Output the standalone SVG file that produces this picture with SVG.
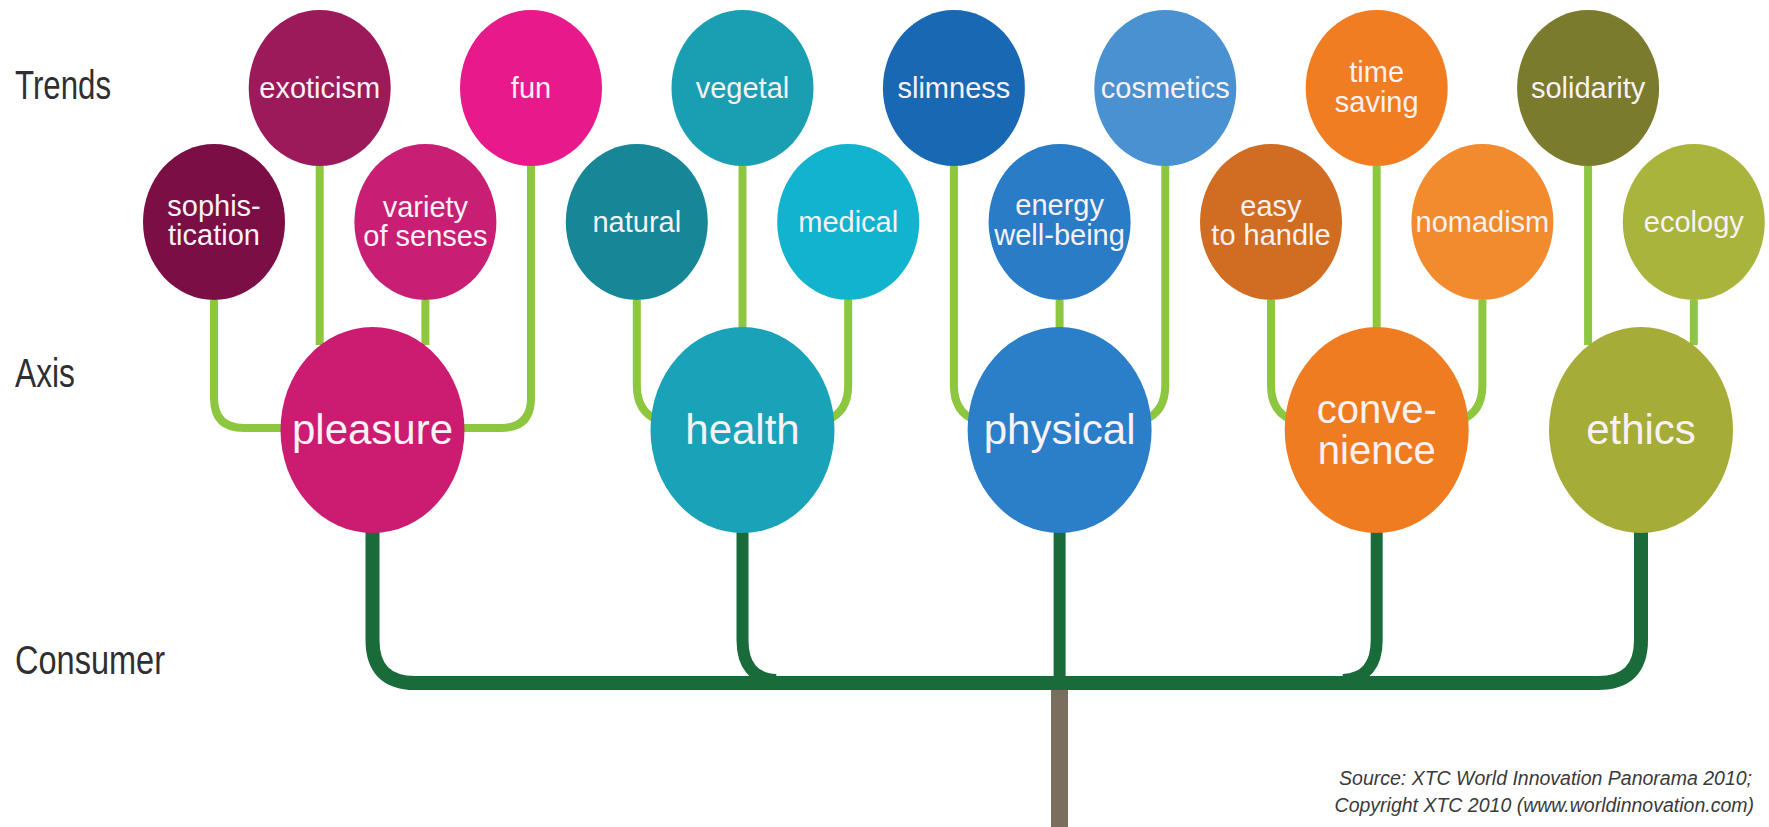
<svg xmlns="http://www.w3.org/2000/svg" width="1769" height="827" viewBox="0 0 1769 827">
<defs>
<style>
.lbl{font-family:"Liberation Sans Narrow","Liberation Sans",Arial,sans-serif;font-size:40px;fill:#2f2f33}
.t{font-family:"Liberation Sans",Arial,sans-serif;font-size:29px;fill:#f8f1f5;text-anchor:middle}
.a{font-family:"Liberation Sans",Arial,sans-serif;font-size:42px;fill:#f8f1f5;text-anchor:middle}
.a2{font-family:"Liberation Sans",Arial,sans-serif;font-size:40px;fill:#f8f1f5;text-anchor:middle}
.lg{fill:none;stroke:#8dc63f;stroke-width:8}
.dg{fill:none;stroke:#1a6b3a;stroke-width:12}
.src{font-family:"Liberation Sans",Arial,sans-serif;font-size:19.5px;font-style:italic;fill:#3a3a3a;text-anchor:end}
</style>
</defs>
<rect width="1769" height="827" fill="#ffffff"/>

<g id="row-labels">
<text class="lbl" x="15" y="99" textLength="96" lengthAdjust="spacingAndGlyphs">Trends</text>
<text class="lbl" x="15" y="387" textLength="60" lengthAdjust="spacingAndGlyphs">Axis</text>
<text class="lbl" x="15" y="674" textLength="150" lengthAdjust="spacingAndGlyphs">Consumer</text>
</g>

<g id="connectors">
<!-- consumer level -->
<rect x="1051" y="688" width="17" height="139" fill="#7b6e5f"/>
<path class="dg" style="stroke-width:14" d="M372.5,530 V640 Q372.5,683 415,683 H1598 Q1641,683 1641,640 V530"/>
<path class="dg" d="M742.5,530 V640 Q742.5,678 776,680"/>
<path class="dg" d="M1376.7,530 V640 Q1376.7,678 1343,680"/>
<path class="dg" d="M1059.6,530 V690"/>
<!-- pleasure -->
<path class="lg" d="M214,300 V398 Q214,428 244,428 H292"/>
<path class="lg" d="M319.7,166 V345"/>
<path class="lg" d="M425.4,300 V345"/>
<path class="lg" d="M531,166 V398 Q531,428 501,428 H453"/>
<!-- health -->
<path class="lg" d="M636.8,300 V385 Q636.8,412 658,420"/>
<path class="lg" d="M742.5,166 V335"/>
<path class="lg" d="M848.2,300 V385 Q848.2,412 827,420"/>
<!-- physical -->
<path class="lg" d="M953.9,166 V385 Q953.9,412 975,420"/>
<path class="lg" d="M1059.6,300 V335"/>
<path class="lg" d="M1165.3,166 V385 Q1165.3,412 1144,420"/>
<!-- convenience -->
<path class="lg" d="M1271,300 V385 Q1271,412 1292,420"/>
<path class="lg" d="M1376.7,166 V335"/>
<path class="lg" d="M1482.4,300 V385 Q1482.4,412 1461,420"/>
<!-- ethics -->
<path class="lg" d="M1588.1,166 V345"/>
<path class="lg" d="M1693.8,300 V345"/>
</g>

<!-- trend nodes -->
<g id="sophistication"><ellipse cx="214" cy="222" rx="71" ry="78" fill="#7b0f45"/><text class="t" x="214" y="216">sophis-</text><text class="t" x="214" y="245">tication</text></g>
<g id="exoticism"><ellipse cx="319.7" cy="88" rx="71" ry="78" fill="#9c1a5a"/><text class="t" x="319.7" y="98">exoticism</text></g>
<g id="variety-of-senses"><ellipse cx="425.4" cy="222" rx="71" ry="78" fill="#c81e74"/><text class="t" x="425.4" y="217">variety</text><text class="t" x="425.4" y="246">of senses</text></g>
<g id="fun"><ellipse cx="531" cy="88" rx="71" ry="78" fill="#e8198b"/><text class="t" x="531" y="98">fun</text></g>

<g id="natural"><ellipse cx="636.8" cy="222" rx="71" ry="78" fill="#178797"/><text class="t" x="636.8" y="232">natural</text></g>
<g id="vegetal"><ellipse cx="742.5" cy="88" rx="71" ry="78" fill="#1a9fb2"/><text class="t" x="742.5" y="98">vegetal</text></g>
<g id="medical"><ellipse cx="848.2" cy="222" rx="71" ry="78" fill="#12b3cf"/><text class="t" x="848.2" y="232">medical</text></g>

<g id="slimness"><ellipse cx="953.9" cy="88" rx="71" ry="78" fill="#1868b3"/><text class="t" x="953.9" y="98">slimness</text></g>
<g id="energy-well-being"><ellipse cx="1059.6" cy="222" rx="71" ry="78" fill="#2a7cc7"/><text class="t" x="1059.6" y="215">energy</text><text class="t" x="1059.6" y="245">well-being</text></g>
<g id="cosmetics"><ellipse cx="1165.3" cy="88" rx="71" ry="78" fill="#4a91d2"/><text class="t" x="1165.3" y="98">cosmetics</text></g>

<g id="easy-to-handle"><ellipse cx="1271" cy="222" rx="71" ry="78" fill="#d06d22"/><text class="t" x="1271" y="216">easy</text><text class="t" x="1271" y="245">to handle</text></g>
<g id="time-saving"><ellipse cx="1376.7" cy="88" rx="71" ry="78" fill="#f07d22"/><text class="t" x="1376.7" y="82">time</text><text class="t" x="1376.7" y="112">saving</text></g>
<g id="nomadism"><ellipse cx="1482.4" cy="222" rx="71" ry="78" fill="#f28a2e"/><text class="t" x="1482.4" y="232">nomadism</text></g>

<g id="solidarity"><ellipse cx="1588.1" cy="88" rx="71" ry="78" fill="#7a7b2c"/><text class="t" x="1588.1" y="98">solidarity</text></g>
<g id="ecology"><ellipse cx="1693.8" cy="222" rx="71" ry="78" fill="#a9b43c"/><text class="t" x="1693.8" y="232">ecology</text></g>

<!-- axis nodes -->
<g id="pleasure"><ellipse cx="372.5" cy="430" rx="92" ry="103" fill="#cc1c72"/><text class="a" x="372.5" y="444">pleasure</text></g>
<g id="health"><ellipse cx="742.5" cy="430" rx="92" ry="103" fill="#1aa3b8"/><text class="a" x="742.5" y="444">health</text></g>
<g id="physical"><ellipse cx="1059.6" cy="430" rx="92" ry="103" fill="#2a7fc8"/><text class="a" x="1059.6" y="444">physical</text></g>
<g id="convenience"><ellipse cx="1376.7" cy="430" rx="92" ry="103" fill="#f07c22"/><text class="a2" x="1376.7" y="423">conve-</text><text class="a2" x="1376.7" y="464">nience</text></g>
<g id="ethics"><ellipse cx="1641" cy="430" rx="92" ry="103" fill="#a5ad38"/><text class="a" x="1641" y="444">ethics</text></g>

<g id="source">
<text class="src" x="1752" y="785">Source: XTC World Innovation Panorama 2010;</text>
<text class="src" x="1754" y="812">Copyright XTC 2010 (www.worldinnovation.com)</text>
</g>
</svg>
